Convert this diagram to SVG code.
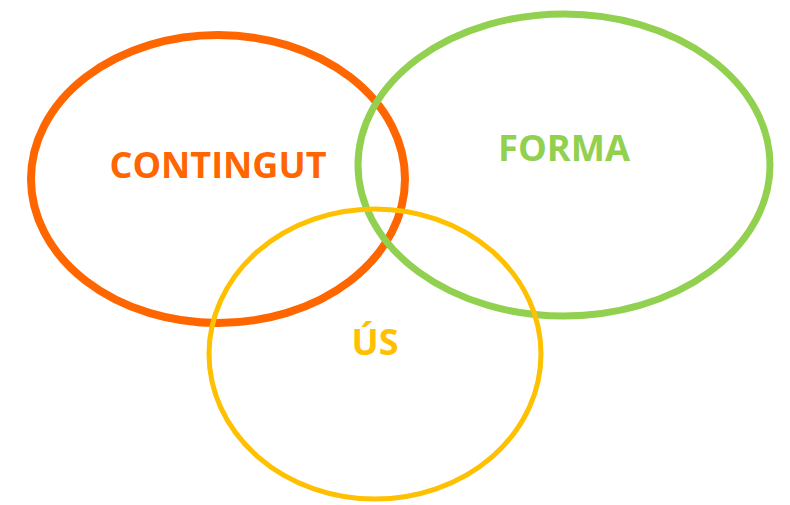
<svg xmlns="http://www.w3.org/2000/svg" width="790" height="505" viewBox="0 0 790 505">
<style>
.e{fill:none}
.t{font-family:"Open Sans","Noto Sans","DejaVu Sans",sans-serif;font-weight:bold;font-size:35px;text-anchor:middle}
</style>
<rect width="790" height="505" fill="#fff"/>
<g id="contingut">
<ellipse class="e" cx="218" cy="179" rx="187" ry="144" stroke="#FF6600" stroke-width="8"/>
<text class="t" x="218" y="178" fill="#FF6600" textLength="217" lengthAdjust="spacingAndGlyphs">CONTINGUT</text>
</g>
<g id="forma">
<ellipse class="e" cx="564" cy="165" rx="206" ry="151" stroke="#92D050" stroke-width="7"/>
<text class="t" x="564" y="161" fill="#92D050" textLength="132" lengthAdjust="spacingAndGlyphs">FORMA</text>
</g>
<g id="us">
<ellipse class="e" cx="375" cy="354" rx="166" ry="145" stroke="#FFC000" stroke-width="5"/>
<text class="t" x="375" y="355" fill="#FFC000" textLength="47" lengthAdjust="spacingAndGlyphs">ÚS</text>
</g>
<g id="connectors"/>
</svg>
